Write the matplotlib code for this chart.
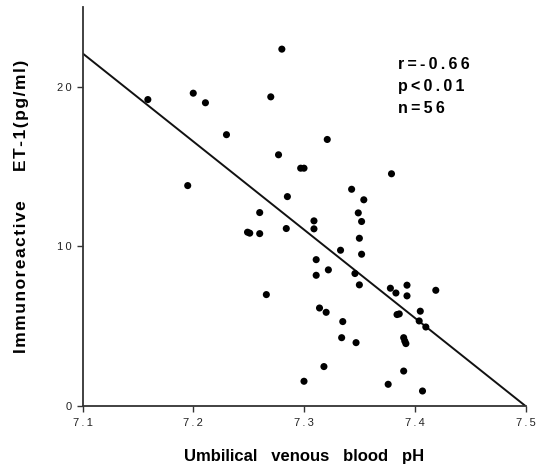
import matplotlib
matplotlib.use("Agg")
import matplotlib.pyplot as plt
import numpy as np

ph = [7.159, 7.200, 7.211, 7.280, 7.270, 7.230, 7.321, 7.277, 7.297, 7.300,
      7.379, 7.195, 7.343, 7.285, 7.354, 7.260, 7.349, 7.309, 7.352, 7.249,
      7.251, 7.260, 7.284, 7.309, 7.350, 7.333, 7.352, 7.311, 7.322, 7.311,
      7.346, 7.350, 7.266, 7.378, 7.383, 7.393, 7.393, 7.419, 7.314, 7.320,
      7.386, 7.384, 7.405, 7.335, 7.404, 7.410, 7.334, 7.347, 7.390, 7.391,
      7.392, 7.318, 7.390, 7.300, 7.376, 7.407]
et1 = [19.2, 19.6, 19.0, 22.36, 19.37, 17.0, 16.7, 15.74, 14.9, 14.9,
       14.55, 13.81, 13.58, 13.12, 12.92, 12.12, 12.1, 11.6, 11.56, 10.89,
       10.83, 10.8, 11.12, 11.1, 10.51, 9.76, 9.51, 9.17, 8.53, 8.19,
       8.3, 7.59, 6.98, 7.38, 7.08, 7.57, 6.9, 7.25, 6.14, 5.87,
       5.77, 5.73, 5.94, 5.29, 5.33, 4.95, 4.28, 3.97, 4.28, 4.07,
       3.91, 2.47, 2.19, 1.55, 1.36, 0.94]

fit_x = [7.1, 7.5]
fit_y = [22.1, 0.0]

xticks = [7.1, 7.2, 7.3, 7.4, 7.5]
xticklabels = ["7.1", "7.2", "7.3", "7.4", "7.5"]
yticks = [0, 10, 20]
yticklabels = ["0", "10", "20"]

stat_lines = ["r=-0.66", "p<0.01", "n=56"]

TS = "\u2009"
HS = "\u200a"


def spaced(s, sep=TS):
    return sep.join(list(s))


fig = plt.figure(figsize=(5.42, 4.69), dpi=100)
ax = fig.add_axes([82.5/542, 1-406/469, (525.5-82.5)/542, (406-7)/469])

ax.plot(fit_x, fit_y, color="#111111", lw=1.4, solid_capstyle="butt", zorder=2)
ax.scatter(ph, et1, s=26, color="#000000", edgecolors="none", zorder=3, clip_on=False)

ax.set_xlim(7.1, 7.5)
ax.set_ylim(0, 25)
ax.set_xticks(xticks)
ax.set_xticklabels([spaced(t) for t in xticklabels], fontfamily="Liberation Sans",
                   fontsize=8, color="#222222")
ax.set_yticks(yticks)
ax.set_yticklabels([spaced(t) for t in yticklabels], fontfamily="Liberation Sans",
                   fontsize=8, color="#222222")
ax.tick_params(axis="x", direction="out", length=4, width=1.0, color="#333333", pad=5)
ax.tick_params(axis="y", direction="out", length=4, width=1.0, color="#333333", pad=4)

for s in ["top", "right"]:
    ax.spines[s].set_visible(False)
for s in ["left", "bottom"]:
    ax.spines[s].set_linewidth(1.3)
    ax.spines[s].set_color("#333333")

ax.set_xlabel("Umbilical   venous   blood   pH", fontfamily="Liberation Sans",
              fontweight="bold", fontsize=12, labelpad=15)
ax.set_ylabel(spaced("Immunoreactive", HS) + "      " + spaced("ET-1(pg/ml)", HS),
              fontfamily="Liberation Sans", fontweight="bold", fontsize=12.5,
              labelpad=20)

for i, line in enumerate(stat_lines):
    ax.text(0.712, 0.855 - i * 0.055, spaced(line), transform=ax.transAxes,
            fontfamily="Liberation Sans", fontweight="bold", fontsize=11.5,
            va="center", ha="left")

fig.savefig("out.png", dpi=100)
